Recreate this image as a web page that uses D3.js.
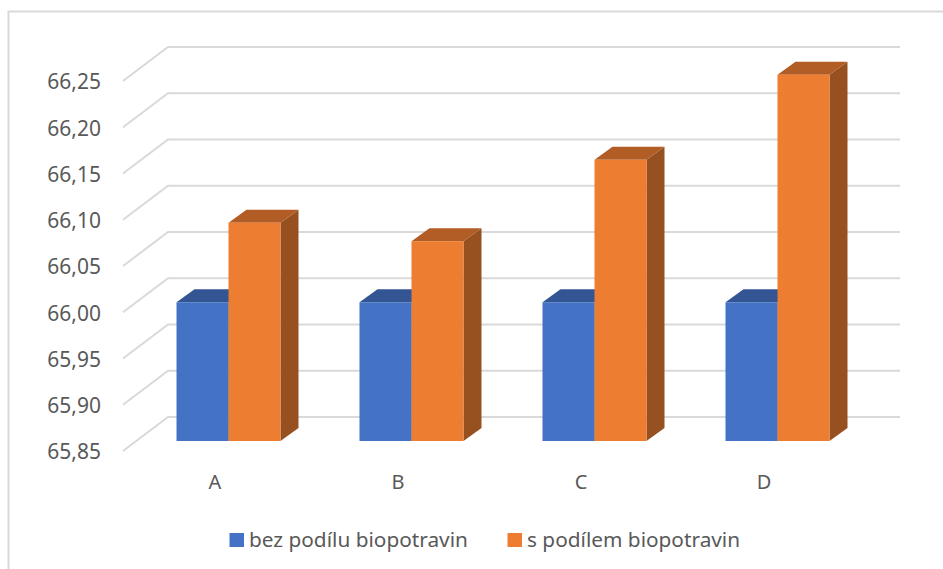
<!DOCTYPE html>
<html><head><meta charset="utf-8">
<script src="https://cdnjs.cloudflare.com/ajax/libs/d3/7.8.5/d3.min.js"></script>
<style>html,body{margin:0;padding:0;background:#fff;overflow:hidden}svg{display:block}
text{font-family:"Noto Sans",sans-serif;fill:#595959}</style></head><body>
<script>
const categories = ["A", "B", "C", "D"];
const seriesNames = ["bez podílu biopotravin", "s podílem biopotravin"];
const bezPodilu = [66.00, 66.00, 66.00, 66.00];
const sPodilem = [66.086, 66.066, 66.154, 66.246];
const tickValues = [65.85, 65.90, 65.95, 66.00, 66.05, 66.10, 66.15, 66.20, 66.25];
const seriesValues = [bezPodilu, sPodilem];
const frontColors = ["#4472C4", "#ED7D31"];
const topColors = ["#335593", "#B15D25"];
const sideColors = ["#2A4A85", "#97501F"];

const W = 943, H = 569;
const svg = d3.select("body").append("svg").attr("width", W).attr("height", H);

svg.append("rect").attr("x", 8.5).attr("y", 11.5).attr("width", 960).attr("height", 600)
  .attr("fill", "#fff").attr("stroke", "#D9D9D9").attr("stroke-width", 2);

const wallDx = 45, wallDy = 34;
const barOffX = 14, barOffY = 10, barDx = 18, barDy = 13;
const y = d3.scaleLinear().domain([65.85, 66.25]).range([451, 81]);
const x = d3.scaleBand().domain(categories).range([123, 855]);
const inner = d3.scaleBand().domain([0, 1]).range([0, 104]);

const grid = svg.append("g").attr("fill", "none").attr("stroke", "#D9D9D9").attr("stroke-width", 2);
grid.selectAll("path").data(tickValues).join("path")
  .attr("d", v => d3.line()([[x.range()[0], y(v)], [x.range()[0] + wallDx, y(v) - wallDy], [x.range()[1] + wallDx, y(v) - wallDy]]));

const yAxis = svg.append("g").attr("transform", "translate(101,0)")
  .call(d3.axisLeft(y).tickValues(tickValues).tickSize(0).tickPadding(0)
    .tickFormat(v => d3.format(".2f")(v).replace(".", ",")));
yAxis.select(".domain").remove();
yAxis.selectAll("text").attr("font-size", 21).attr("dy", "0.38em");

const xAxis = svg.append("g").attr("transform", "translate(0.5,489)")
  .call(d3.axisBottom(x).tickSize(0).tickPadding(0));
xAxis.select(".domain").remove();
xAxis.selectAll("text").attr("font-size", 20).attr("y", 0).attr("dy", 0);

seriesValues.forEach((vals, s) => {
  const g = svg.append("g");
  vals.forEach((v, i) => {
    const c = categories[i];
    const x0 = x(c) + x.bandwidth() / 2 - inner.bandwidth() + barOffX + inner(s);
    const x1 = x0 + inner.bandwidth();
    const yT = y(v) - barOffY, yB = y(65.85) - barOffY;
    const line = d3.line();
    g.append("path").attr("fill", sideColors[s]).attr("d", line([[x1, yT], [x1 + barDx, yT - barDy], [x1 + barDx, yB - barDy], [x1, yB]]) + "Z");
    g.append("path").attr("fill", topColors[s]).attr("d", line([[x0, yT], [x0 + barDx, yT - barDy], [x1 + barDx, yT - barDy], [x1, yT]]) + "Z");
    g.append("rect").attr("x", x0).attr("y", yT).attr("width", x1 - x0).attr("height", yB - yT).attr("fill", frontColors[s]);
  });
});

const legendX = [229.5, 507.5], legendTextX = [249, 527];
seriesNames.forEach((n, i) => {
  svg.append("rect").attr("x", legendX[i]).attr("y", 533).attr("width", 14.5).attr("height", 14).attr("fill", frontColors[i]);
  svg.append("text").attr("x", legendTextX[i]).attr("y", 547).attr("font-size", 20.8).text(n);
});
</script></body></html>
